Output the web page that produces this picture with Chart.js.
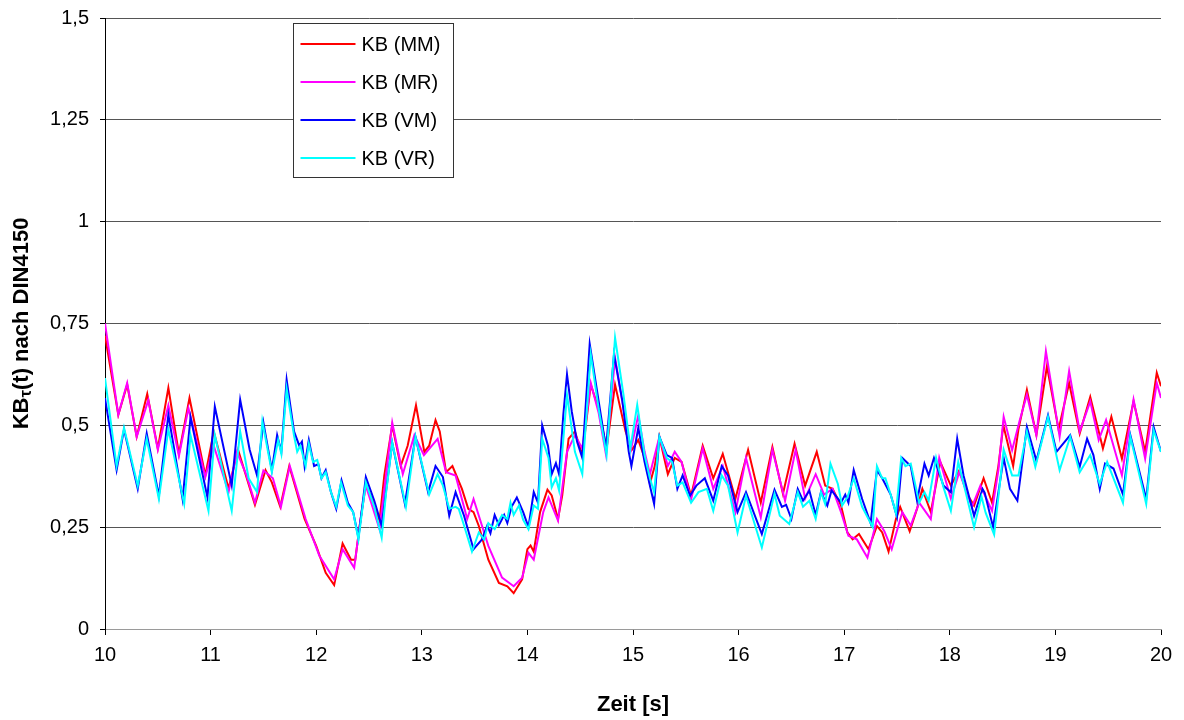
<!DOCTYPE html>
<html>
<head>
<meta charset="utf-8">
<script src="https://cdn.jsdelivr.net/npm/chart.js@4/dist/chart.umd.min.js"></script>
<style>
  html, body { margin: 0; padding: 0; background: #ffffff; }
  #wrap { width: 1184px; height: 720px; }
</style>
</head>
<body>
<div id="wrap"><canvas id="kb" width="1184" height="720"></canvas></div>
<script>
// KB value series (time in s, value dimensionless), one pair of arrays per measuring point
const mmTime = [10.0,10.126,10.21,10.30,10.40,10.50,10.60,10.70,10.80,10.95,11.03,11.17,11.26,11.42,11.52,11.58,11.66,11.745,11.89,12.0,12.09,12.17,12.25,12.33,12.37,12.41,12.47,12.535,12.60,12.645,12.72,12.80,12.866,12.945,13.024,13.07,13.13,13.17,13.23,13.29,13.38,13.44,13.49,13.54,13.63,13.73,13.81,13.87,13.95,14.0,14.03,14.06,14.12,14.19,14.23,14.29,14.33,14.39,14.45,14.52,14.60,14.675,14.75,14.83,14.93,14.99,15.05,15.11,15.16,15.206,15.25,15.33,15.395,15.46,15.55,15.66,15.76,15.85,15.97,16.09,16.21,16.32,16.42,16.53,16.63,16.74,16.82,16.89,16.97,17.03,17.08,17.14,17.23,17.31,17.36,17.42,17.49,17.53,17.62,17.69,17.74,17.82,17.91,18.01,18.09,18.17,18.23,18.32,18.40,18.46,18.507,18.60,18.65,18.73,18.82,18.92,19.03,19.13,19.23,19.33,19.45,19.53,19.63,19.74,19.85,19.96,20.0];
const mmValue = [0.72,0.526,0.60,0.472,0.577,0.443,0.592,0.43,0.567,0.377,0.485,0.345,0.44,0.305,0.39,0.36,0.30,0.40,0.27,0.204,0.138,0.108,0.21,0.17,0.17,0.25,0.357,0.316,0.266,0.377,0.50,0.40,0.45,0.549,0.435,0.45,0.513,0.485,0.385,0.40,0.344,0.295,0.287,0.253,0.17,0.113,0.105,0.088,0.122,0.196,0.205,0.19,0.287,0.342,0.328,0.27,0.328,0.467,0.485,0.427,0.60,0.54,0.443,0.60,0.485,0.44,0.464,0.42,0.357,0.40,0.472,0.38,0.42,0.41,0.327,0.45,0.37,0.43,0.32,0.44,0.31,0.447,0.332,0.455,0.352,0.435,0.352,0.344,0.303,0.237,0.22,0.233,0.196,0.253,0.237,0.19,0.27,0.30,0.24,0.295,0.344,0.287,0.41,0.352,0.39,0.328,0.303,0.37,0.31,0.40,0.50,0.40,0.49,0.587,0.476,0.645,0.49,0.604,0.48,0.57,0.443,0.521,0.418,0.559,0.435,0.629,0.596];

const mrTime = [10.0,10.126,10.21,10.30,10.41,10.50,10.60,10.70,10.79,10.95,11.03,11.17,11.25,11.34,11.42,11.50,11.59,11.666,11.75,11.90,12.03,12.17,12.25,12.36,12.42,12.47,12.60,12.72,12.82,12.93,13.02,13.15,13.23,13.32,13.43,13.49,13.63,13.76,13.87,13.95,14.01,14.06,14.15,14.20,14.29,14.375,14.45,14.52,14.60,14.675,14.745,14.83,14.93,14.98,15.05,15.11,15.16,15.25,15.33,15.395,15.46,15.55,15.66,15.76,15.85,15.97,16.07,16.21,16.32,16.44,16.54,16.63,16.73,16.81,16.89,16.97,17.04,17.12,17.22,17.31,17.38,17.45,17.55,17.63,17.71,17.82,17.90,18.01,18.09,18.21,18.29,18.40,18.46,18.51,18.59,18.66,18.73,18.82,18.91,19.04,19.13,19.23,19.33,19.41,19.48,19.63,19.74,19.85,19.96,20.0];
const mrValue = [0.75,0.526,0.604,0.472,0.562,0.44,0.549,0.425,0.542,0.373,0.45,0.336,0.435,0.377,0.31,0.389,0.37,0.30,0.40,0.27,0.18,0.122,0.196,0.15,0.27,0.352,0.245,0.507,0.38,0.476,0.427,0.467,0.385,0.377,0.27,0.319,0.204,0.126,0.105,0.126,0.187,0.17,0.287,0.323,0.266,0.435,0.476,0.443,0.604,0.53,0.427,0.666,0.51,0.44,0.525,0.435,0.38,0.472,0.40,0.435,0.41,0.318,0.443,0.344,0.40,0.287,0.42,0.274,0.44,0.315,0.44,0.32,0.38,0.33,0.344,0.287,0.229,0.22,0.175,0.27,0.24,0.196,0.287,0.254,0.31,0.27,0.42,0.32,0.385,0.30,0.352,0.29,0.39,0.521,0.439,0.51,0.575,0.476,0.682,0.472,0.633,0.485,0.559,0.464,0.513,0.377,0.563,0.418,0.604,0.567];

const vmTime = [10.0,10.11,10.18,10.31,10.395,10.51,10.60,10.735,10.81,10.97,11.04,11.20,11.28,11.37,11.44,11.50,11.58,11.63,11.67,11.72,11.79,11.84,11.865,11.89,11.93,11.98,12.02,12.05,12.09,12.14,12.19,12.24,12.30,12.35,12.40,12.47,12.55,12.62,12.66,12.72,12.84,12.94,13.06,13.13,13.20,13.26,13.32,13.40,13.49,13.57,13.62,13.65,13.69,13.73,13.78,13.81,13.85,13.90,13.96,14.01,14.06,14.10,14.14,14.195,14.23,14.27,14.30,14.34,14.375,14.42,14.47,14.52,14.59,14.675,14.745,14.82,14.90,14.96,14.985,15.05,15.11,15.16,15.20,15.25,15.32,15.37,15.42,15.47,15.54,15.60,15.68,15.76,15.84,15.90,15.99,16.07,16.22,16.34,16.41,16.45,16.50,16.56,16.61,16.67,16.73,16.78,16.84,16.88,16.97,17.01,17.04,17.09,17.17,17.25,17.31,17.36,17.44,17.50,17.55,17.63,17.69,17.76,17.80,17.85,17.94,18.01,18.07,18.13,18.23,18.31,18.33,18.41,18.51,18.57,18.64,18.73,18.82,18.93,19.01,19.14,19.23,19.30,19.36,19.42,19.47,19.55,19.64,19.71,19.86,19.93,20.0];
const vmValue = [0.567,0.39,0.49,0.344,0.48,0.327,0.526,0.319,0.52,0.323,0.546,0.352,0.563,0.44,0.377,0.507,0.39,0.476,0.435,0.612,0.485,0.45,0.46,0.40,0.464,0.40,0.405,0.37,0.39,0.336,0.295,0.365,0.31,0.287,0.224,0.373,0.315,0.254,0.336,0.457,0.307,0.472,0.336,0.40,0.373,0.278,0.336,0.278,0.196,0.22,0.254,0.235,0.28,0.255,0.28,0.26,0.30,0.323,0.287,0.25,0.336,0.31,0.50,0.45,0.38,0.407,0.38,0.526,0.625,0.534,0.46,0.42,0.70,0.559,0.443,0.674,0.559,0.435,0.40,0.494,0.41,0.352,0.307,0.472,0.427,0.42,0.344,0.377,0.327,0.352,0.37,0.315,0.40,0.377,0.287,0.336,0.233,0.342,0.30,0.305,0.27,0.344,0.315,0.34,0.28,0.336,0.303,0.34,0.31,0.33,0.31,0.39,0.319,0.26,0.39,0.37,0.33,0.275,0.42,0.40,0.315,0.406,0.377,0.42,0.352,0.336,0.467,0.377,0.278,0.344,0.335,0.25,0.42,0.344,0.315,0.496,0.413,0.525,0.435,0.476,0.398,0.467,0.427,0.344,0.406,0.394,0.33,0.476,0.319,0.496,0.435];

const vrTime = [10.0,10.11,10.18,10.31,10.395,10.51,10.60,10.75,10.81,10.98,11.04,11.20,11.28,11.36,11.44,11.49,11.58,11.64,11.67,11.72,11.79,11.82,11.85,11.90,11.93,11.97,12.01,12.05,12.09,12.14,12.19,12.235,12.30,12.35,12.40,12.47,12.55,12.62,12.66,12.72,12.85,12.94,13.07,13.15,13.20,13.26,13.32,13.35,13.40,13.475,13.54,13.59,13.63,13.69,13.76,13.81,13.84,13.87,13.92,13.96,14.01,14.06,14.10,14.14,14.20,14.23,14.27,14.30,14.375,14.45,14.52,14.60,14.675,14.75,14.83,14.91,14.975,15.04,15.11,15.16,15.20,15.25,15.32,15.37,15.42,15.47,15.55,15.62,15.70,15.76,15.84,15.90,15.99,16.07,16.22,16.34,16.39,16.48,16.56,16.61,16.67,16.73,16.78,16.82,16.87,16.94,16.98,17.03,17.09,17.17,17.27,17.31,17.36,17.39,17.44,17.49,17.54,17.58,17.63,17.71,17.76,17.80,17.87,17.94,18.01,18.08,18.15,18.23,18.30,18.34,18.42,18.51,18.59,18.65,18.73,18.81,18.93,19.04,19.14,19.23,19.33,19.42,19.49,19.64,19.71,19.86,19.93,20.0];
const vrValue = [0.616,0.40,0.494,0.352,0.467,0.319,0.49,0.307,0.476,0.29,0.476,0.29,0.485,0.37,0.336,0.51,0.385,0.464,0.43,0.59,0.475,0.435,0.45,0.40,0.455,0.41,0.415,0.37,0.385,0.336,0.30,0.36,0.303,0.287,0.22,0.36,0.30,0.224,0.33,0.457,0.30,0.472,0.33,0.38,0.352,0.295,0.30,0.295,0.254,0.19,0.237,0.22,0.26,0.245,0.28,0.27,0.31,0.28,0.303,0.268,0.245,0.303,0.295,0.467,0.42,0.348,0.37,0.34,0.575,0.435,0.38,0.674,0.54,0.427,0.715,0.575,0.443,0.55,0.427,0.37,0.336,0.472,0.42,0.41,0.352,0.36,0.31,0.336,0.344,0.29,0.377,0.352,0.237,0.327,0.20,0.332,0.278,0.258,0.336,0.30,0.315,0.27,0.336,0.307,0.406,0.356,0.303,0.323,0.37,0.30,0.25,0.40,0.37,0.37,0.33,0.284,0.42,0.40,0.406,0.31,0.336,0.315,0.42,0.348,0.29,0.41,0.336,0.25,0.325,0.285,0.232,0.44,0.377,0.377,0.485,0.398,0.521,0.39,0.472,0.385,0.427,0.356,0.41,0.31,0.472,0.307,0.488,0.435];

const seriesLabels = ['KB (MM)', 'KB (MR)', 'KB (VM)', 'KB (VR)'];
const seriesColors = ['#ff0000', '#ff00ff', '#0000ff', '#00ffff'];
const yTickLabels = ['0', '0,25', '0,5', '0,75', '1', '1,25', '1,5'];
const xTickLabels = ['10', '11', '12', '13', '14', '15', '16', '17', '18', '19', '20'];
const xTitle = 'Zeit [s]';
const yTitleParts = ['KB', 'τ', '(t) nach DIN4150'];

const toPoints = (ts, vs) => ts.map((t, i) => ({ x: t, y: vs[i] }));
const seriesData = [
  toPoints(mmTime, mmValue),
  toPoints(mrTime, mrValue),
  toPoints(vmTime, vmValue),
  toPoints(vrTime, vrValue)
];

const FONT = '"Liberation Sans", Arial, sans-serif';

// Legend box and axis titles drawn on top of the plot
const decor = {
  id: 'decor',
  afterDraw(chart) {
    const { ctx, chartArea } = chart;
    ctx.save();

    // legend
    const bx = chartArea.left + 188.5, by = chartArea.top + 5.5, bw = 160, bh = 154;
    ctx.fillStyle = '#ffffff';
    ctx.fillRect(bx, by, bw, bh);
    ctx.strokeStyle = '#333333';
    ctx.lineWidth = 1;
    ctx.strokeRect(bx, by, bw, bh);
    ctx.font = '20px ' + FONT;
    ctx.textBaseline = 'middle';
    ctx.textAlign = 'left';
    seriesLabels.forEach((lab, i) => {
      const cy = by + 20.5 + i * 38;
      ctx.strokeStyle = seriesColors[i];
      ctx.lineWidth = 2;
      ctx.beginPath();
      ctx.moveTo(bx + 7, cy);
      ctx.lineTo(bx + 62, cy);
      ctx.stroke();
      ctx.fillStyle = '#000000';
      ctx.fillText(lab, bx + 68, cy + 1);
    });

    // x axis title
    ctx.font = 'bold 22px ' + FONT;
    ctx.textAlign = 'center';
    ctx.textBaseline = 'middle';
    ctx.fillStyle = '#000000';
    ctx.fillText(xTitle, (chartArea.left + chartArea.right) / 2, 705);

    // y axis title with subscript
    ctx.translate(22, (chartArea.top + chartArea.bottom) / 2);
    ctx.rotate(-Math.PI / 2);
    const mainFont = 'bold 22px ' + FONT, subFont = 'bold 17px ' + FONT;
    ctx.font = mainFont;
    const w0 = ctx.measureText(yTitleParts[0]).width;
    const w2 = ctx.measureText(yTitleParts[2]).width;
    ctx.font = subFont;
    const w1 = ctx.measureText(yTitleParts[1]).width;
    let x = -(w0 + w1 + w2) / 2;
    ctx.textAlign = 'left';
    ctx.font = mainFont;
    ctx.fillText(yTitleParts[0], x, 0);
    x += w0;
    ctx.font = subFont;
    ctx.fillText(yTitleParts[1], x, 4);
    x += w1;
    ctx.font = mainFont;
    ctx.fillText(yTitleParts[2], x, 0);
    ctx.restore();
  }
};

new Chart(document.getElementById('kb'), {
  type: 'line',
  data: {
    datasets: seriesData.map((pts, i) => ({
      label: seriesLabels[i],
      data: pts,
      borderColor: seriesColors[i],
      backgroundColor: seriesColors[i],
      borderWidth: 2,
      pointRadius: 0,
      tension: 0,
      fill: false,
      order: 3 - i
    }))
  },
  options: {
    responsive: false,
    animation: false,
    layout: { padding: { top: 18, right: 23, left: 0, bottom: 0 } },
    plugins: { legend: { display: false }, tooltip: { enabled: false } },
    scales: {
      x: {
        type: 'linear',
        min: 10,
        max: 20,
        afterFit: (s) => { s.height = 91; s.paddingLeft = 0; s.paddingRight = 0; },
        afterBuildTicks: (s) => { s.ticks = xTickLabels.map(Number).map(v => ({ value: v })); },
        ticks: {
          autoSkip: false,
          maxRotation: 0,
          padding: 8,
          color: '#000000',
          font: { family: FONT, size: 20 },
          callback: (v, i) => xTickLabels[i]
        },
        grid: { drawOnChartArea: false, drawTicks: true, tickLength: 6, color: '#000000' },
        border: { display: true, color: '#9a9a9a', width: 1 }
      },
      y: {
        min: 0,
        max: 1.5,
        afterFit: (s) => { s.width = 105; s.paddingTop = 0; s.paddingBottom = 0; },
        afterBuildTicks: (s) => { s.ticks = yTickLabels.map((t, i) => ({ value: i * 0.25 })); },
        ticks: {
          autoSkip: false,
          padding: 11,
          color: '#000000',
          font: { family: FONT, size: 20 },
          callback: (v, i) => yTickLabels[i]
        },
        grid: { color: '#555555', lineWidth: 1, tickLength: 5, tickColor: '#000000' },
        border: { display: true, color: '#000000', width: 1 }
      }
    }
  },
  plugins: [decor]
});
</script>
</body>
</html>
